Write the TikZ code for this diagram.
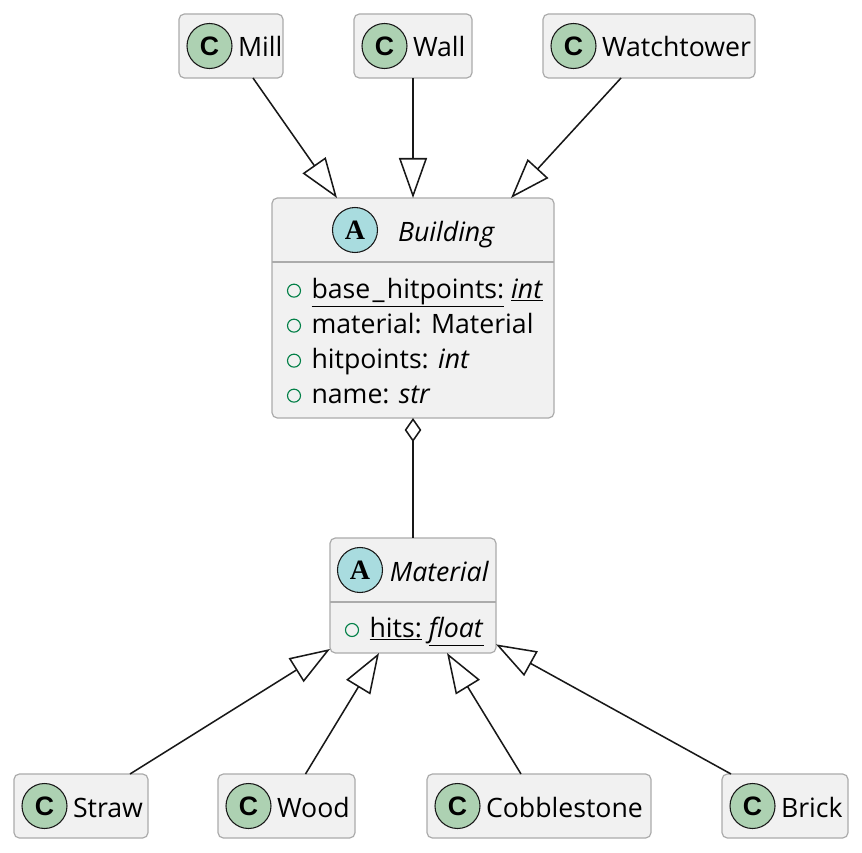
\documentclass[tikz,border=0pt]{standalone}
\usepackage{fontspec}
\setmainfont{Open Sans}
\newfontfamily\badgesans{Liberation Sans}
\newfontfamily\badgeserif{Liberation Serif}
\usetikzlibrary{positioning,arrows.meta}
\definecolor{boxfill}{HTML}{F1F1F1}
\definecolor{boxline}{HTML}{ABABAB}
\definecolor{clsgreen}{HTML}{ADD1B2}
\definecolor{abscyan}{HTML}{A9DCDF}
\definecolor{attrgreen}{HTML}{038048}
\definecolor{inkline}{HTML}{181818}

\begin{document}
\begin{tikzpicture}[
    box/.style={draw=boxline,fill=boxfill,rounded corners=4pt,line width=0.9pt,outer sep=0pt,inner sep=0pt,minimum height=48pt},
    badge/.style={circle,draw=inkline,line width=0.8pt,minimum size=33.75pt,inner sep=0pt,outer sep=0pt},
    cbadge/.style={badge,fill=clsgreen,font=\badgesans\bfseries\fontsize{20}{20}\selectfont},
    abadge/.style={badge,fill=abscyan,font=\badgeserif\bfseries\fontsize{21}{21}\selectfont},
    lbl/.style={inner sep=0pt,outer sep=0pt,text height=19pt,text depth=2.5pt,font=\fontsize{20}{24}\selectfont},
    row/.style={inner sep=0pt,outer sep=0pt,text height=15.5pt,text depth=4.5pt,font=\fontsize{20}{24}\selectfont},
    dot/.style={circle,draw=attrgreen,line width=0.85pt,minimum size=9.75pt,inner sep=0pt,outer sep=0pt},
    sep/.style={draw=boxline,line width=0.9pt},
    ext/.style={draw=inkline,line width=1.15pt,-{Triangle[open,fill=white,length=30pt,width=21pt]}},
    agg/.style={draw=inkline,line width=1.15pt,{Diamond[open,fill=white,length=18pt,width=12.5pt]}-}
  ]
    \useasboundingbox (0,0) rectangle (646.5pt,-639pt);
    % top row
    \node[box,minimum width=78pt] (mill) at (173.25pt,-34.5pt) {};
    \node[box,minimum width=88.5pt,right=53.25pt of mill] (wall) {};
    \node[box,minimum width=159pt,right=53.25pt of wall] (tower) {};
    \node[cbadge,right=6pt of mill.west] (millc) {C};
    \node[lbl,right=4.5pt of millc] (milll) {Mill};
    \node[cbadge,right=6pt of wall.west] (wallc) {C};
    \node[lbl,right=4.5pt of wallc] (walll) {Wall};
    \node[cbadge,right=6pt of tower.west] (towerc) {C};
    \node[lbl,right=4.5pt of towerc] (towerl) {Watchtower};

    % building
    \node[box,minimum width=211.5pt,minimum height=165pt,below=90pt of wall] (bld) {};
    \node[abadge,below right=24pt and 62.25pt of bld.north west,anchor=center] (bldc) {A};
    \node[lbl,right=15.4pt of bldc] (bldl) {\textit{Building}};
    \draw[sep] ([yshift=-48pt]bld.north west) -- ([yshift=-48pt]bld.north east);
    \node[dot,below right=69.5pt and 16.5pt of bld.north west,anchor=center] (d1) {};
    \node[dot,below=16.5pt of d1] (d2) {};
    \node[dot,below=16.5pt of d2] (d3) {};
    \node[dot,below=16.5pt of d3] (d4) {};
    \node[row,right=8.25pt of d1] (a1) {\underline{base\kern1.75pt\_\kern1.75pt hitpoints:} \underline{\textit{int}}};
    \node[row,right=8.25pt of d2] (a2) {material: Material};
    \node[row,right=8.25pt of d3] (a3) {hitpoints: \textit{int}};
    \node[row,right=8.25pt of d4] (a4) {name: \textit{str}};

    % material
    \node[box,minimum width=124.5pt,minimum height=86.25pt,below=90pt of bld] (mat) {};
    \node[abadge,below right=24pt and 22.5pt of mat.north west,anchor=center] (matc) {A};
    \node[lbl,right=5.6pt of matc] (matl) {\textit{Material}};
    \draw[sep] ([yshift=-48pt]mat.north west) -- ([yshift=-48pt]mat.north east);
    \node[dot,below right=69pt and 16.5pt of mat.north west,anchor=center] (d5) {};
    \node[row,right=8.25pt of d5] (a5) {\underline{hits:} \underline{\textit{float}}};

    % bottom row
    \node[box,minimum width=102.75pt,below=90.75pt of mat,xshift=-94.875pt] (wood) {};
    \node[box,minimum width=100.5pt,left=52.5pt of wood] (straw) {};
    \node[box,minimum width=168pt,right=54pt of wood] (cobble) {};
    \node[box,minimum width=94.5pt,right=53.25pt of cobble] (brick) {};
    \node[cbadge,right=6pt of straw.west] (strawc) {C};
    \node[lbl,right=4.5pt of strawc] (strawl) {Straw};
    \node[cbadge,right=6pt of wood.west] (woodc) {C};
    \node[lbl,right=4.5pt of woodc] (woodl) {Wood};
    \node[cbadge,right=6pt of cobble.west] (cobblec) {C};
    \node[lbl,right=4.5pt of cobblec] (cobblel) {Cobblestone};
    \node[cbadge,right=6pt of brick.west] (brickc) {C};
    \node[lbl,right=4.5pt of brickc] (brickl) {Brick};

    \draw[ext] ([xshift=16.5pt]mill.south) -- ([xshift=-57pt]bld.north);
    \draw[ext] (wall.south) -- (bld.north);
    \draw[ext] ([xshift=-21pt]tower.south) -- ([xshift=73.5pt]bld.north);
    \draw[agg] (bld.south) -- (mat.north);
    \draw[ext] ([xshift=36.75pt]straw.north) -- ([yshift=3pt]mat.south west);
    \draw[ext] ([xshift=14.25pt]wood.north) -- ([xshift=-25.5pt]mat.south);
    \draw[ext] ([xshift=-13.5pt]cobble.north) -- ([xshift=25.5pt]mat.south);
    \draw[ext] ([xshift=-40.5pt]brick.north) -- ([yshift=6.5pt]mat.south east);
  \end{tikzpicture}
\end{document}
